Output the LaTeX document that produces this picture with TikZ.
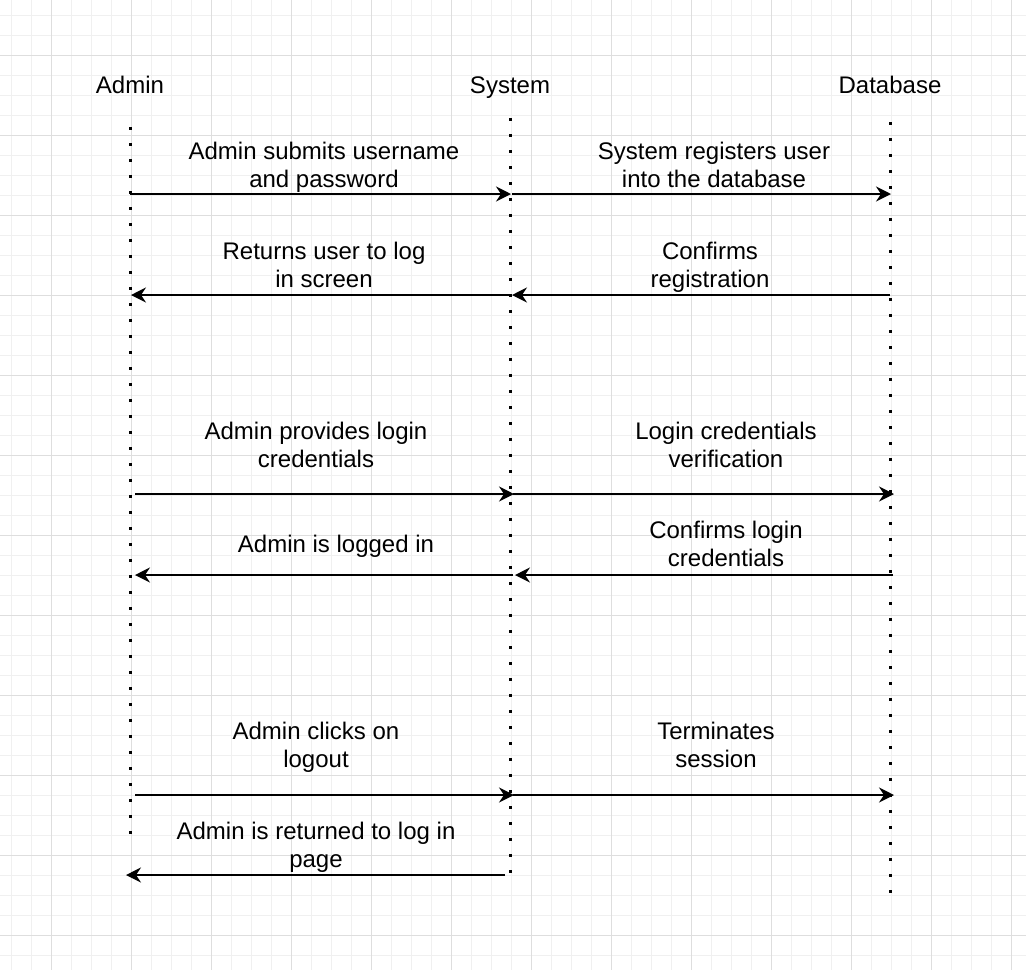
\documentclass[tikz,border=0pt]{standalone}
\usepackage{fontspec}
\setmainfont{Liberation Sans}
\usetikzlibrary{arrows.meta}
\definecolor{gridminor}{HTML}{F0F0F0}
\definecolor{gridmajor}{HTML}{DEDEDE}
\newcommand{\topstrut}{\rule{0pt}{20pt}}
\tikzset{
  lbl/.style={align=center, inner sep=0pt, anchor=north, font=\fontsize{24}{28}\selectfont},
  hdr/.style={inner sep=0pt, anchor=base, font=\fontsize{24}{28}\selectfont},
  lifeline/.style={line width=3pt, dash pattern=on 3pt off 13pt, line cap=butt},
  msg/.style={line width=2pt, -{Stealth[length=15pt, width=15pt, inset=5pt]}},
}
\begin{document}
\begin{tikzpicture}[x=1pt, y=-1pt]
\useasboundingbox (0,0) rectangle (1026,970);
\fill[white] (0,0) rectangle (1026,970);
% grid
\foreach \x in {11,31,...,1026} \draw[gridminor, line width=1pt] (\x,0) -- (\x,970);
\foreach \y in {15,35,...,970} \draw[gridminor, line width=1pt] (0,\y) -- (1026,\y);
\foreach \x in {51,131,...,1026} \draw[gridmajor, line width=1pt] (\x,0) -- (\x,970);
\foreach \y in {55,135,...,970} \draw[gridmajor, line width=1pt] (0,\y) -- (1026,\y);

% headers
\node[hdr] (admin) at (130,93) {Admin};
\node[hdr] (system) at (510,93) {System};
\node[hdr] (db) at (890,93) {Database};

% lifelines
\coordinate (at) at (130,127); \coordinate (ab) at (130,836);
\coordinate (st) at (510,118); \coordinate (sb) at (510,878);
\coordinate (dt) at (890,122); \coordinate (dbb) at (890,895);
\draw[lifeline] (at) -- (ab);
\draw[lifeline] (st) -- (sb);
\draw[lifeline] (dt) -- (dbb);

% message endpoints
\coordinate (a1) at (130,194); \coordinate (s1) at (511,194); \coordinate (s1b) at (512,194); \coordinate (d1) at (891,194);
\coordinate (a2) at (131,295); \coordinate (s2) at (510,295); \coordinate (s2b) at (512,295); \coordinate (d2) at (890,295);
\coordinate (a3) at (135,494); \coordinate (s3) at (514,494); \coordinate (s3b) at (513,494); \coordinate (d3) at (894,494);
\coordinate (a4) at (135,575); \coordinate (s4) at (513,575); \coordinate (s4b) at (515,575); \coordinate (d4) at (893,575);
\coordinate (a5) at (135,795); \coordinate (s5) at (514,795); \coordinate (s5b) at (513,795); \coordinate (d5) at (894,795);
\coordinate (a6) at (126,875); \coordinate (s6) at (505,875);

\draw[msg] (a1) -- (s1);
\draw[msg] (s1b) -- (d1);
\draw[msg] (s2) -- (a2);
\draw[msg] (d2) -- (s2b);
\draw[msg] (a3) -- (s3);
\draw[msg] (s3b) -- (d3);
\draw[msg] (s4) -- (a4);
\draw[msg] (d4) -- (s4b);
\draw[msg] (a5) -- (s5);
\draw[msg] (s5b) -- (d5);
\draw[msg] (s6) -- (a6);

% labels (y = first baseline - 20)
\node[lbl] (l1) at (324,139) {\topstrut Admin submits username\\and password};
\node[lbl] (l2) at (714,139) {\topstrut System registers user\\into the database};
\node[lbl] (l3) at (324,239) {\topstrut Returns user to log\\in screen};
\node[lbl] (l4) at (710,239) {\topstrut Confirms\\registration};
\node[lbl] (l5) at (316,419) {\topstrut Admin provides login\\credentials};
\node[lbl] (l6) at (726,419) {\topstrut Login credentials\\verification};
\node[lbl] (l7) at (336,532) {\topstrut Admin is logged in};
\node[lbl] (l8) at (726,518) {\topstrut Confirms login\\credentials};
\node[lbl] (l9) at (316,719) {\topstrut Admin clicks on\\logout};
\node[lbl] (l10) at (716,719) {\topstrut Terminates\\session};
\node[lbl] (l11) at (316,819) {\topstrut Admin is returned to log in\\page};
\end{tikzpicture}
\end{document}
